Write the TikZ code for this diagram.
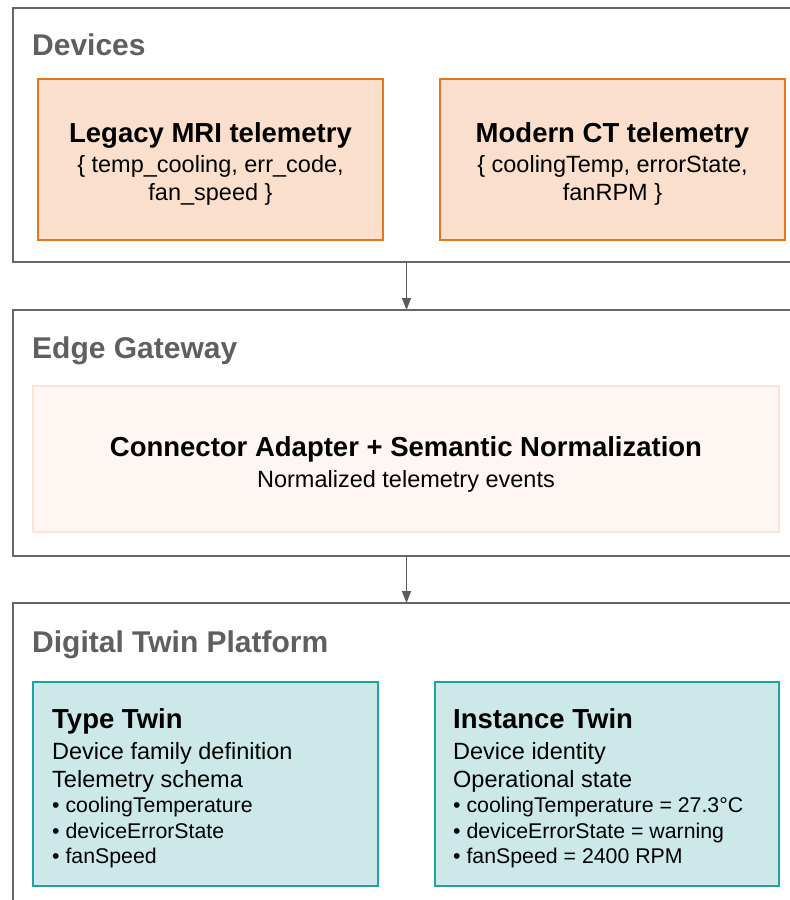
\documentclass[tikz,border=0pt]{standalone}
\usepackage{fontspec}
\setmainfont{Liberation Sans}
\usetikzlibrary{arrows.meta}
\definecolor{framegray}{HTML}{666666}
\definecolor{headgray}{HTML}{5F5F5F}
\definecolor{orangeline}{HTML}{E8741E}
\definecolor{orangefill}{HTML}{FAE0CC}
\definecolor{paleline}{HTML}{FCE3D6}
\definecolor{palefill}{HTML}{FDF6F2}
\definecolor{tealline}{HTML}{1FA39E}
\definecolor{tealfill}{HTML}{CCE8E8}
\definecolor{arrowgray}{HTML}{5A5A5A}
\tikzset{
  container/.style={draw=framegray, line width=1.6pt, fill=white, inner sep=0pt, outer sep=0pt},
  devbox/.style={draw=orangeline, line width=1.6pt, fill=orangefill, inner sep=0pt, outer sep=0pt},
  gwbox/.style={draw=paleline, line width=1.6pt, fill=palefill, inner sep=0pt, outer sep=0pt},
  twinbox/.style={draw=tealline, line width=1.6pt, fill=tealfill, inner sep=0pt, outer sep=0pt},
  heading/.style={inner sep=0pt, anchor=base west, text=headgray, font=\fontsize{30}{34}\selectfont\bfseries},
  boxtitle/.style={inner sep=0pt, font=\fontsize{27.5}{32}\selectfont\bfseries, text=black},
  boxsub/.style={inner sep=0pt, font=\fontsize{23.5}{28}\selectfont, text=black},
  bulletline/.style={inner sep=0pt, anchor=base west, font=\fontsize{21.3}{25}\selectfont, text=black},
  flow/.style={draw=arrowgray, line width=1.5pt, -{Triangle[length=12pt,width=9pt]}},
}
\begin{document}
\begin{tikzpicture}[x=1pt,y=-1pt]
\useasboundingbox (0,0) rectangle (790,900);
\clip (0,0) rectangle (790,900);
% containers
\node[container, minimum width=787pt, minimum height=254pt, anchor=north west] (dev) at (13,8) {};
\node[container, minimum width=787pt, minimum height=246pt, anchor=north west] (gw) at (13,310) {};
\node[container, minimum width=787pt, minimum height=320pt, anchor=north west] (dtp) at (13,603) {};
% headings
\node[heading] (hdev) at (32,55) {Devices};
\node[heading] (hgw) at (32,358) {Edge Gateway};
\node[heading] (hdtp) at (32,652) {Digital Twin Platform};
% device boxes
\node[devbox, minimum width=345pt, minimum height=161pt, anchor=north west] (mri) at (38,79) {};
\node[devbox, minimum width=345pt, minimum height=161pt, anchor=north west] (ct) at (440,79) {};
\node[boxtitle, anchor=base] (mrit) at (210.5,142) {Legacy MRI telemetry};
\node[boxsub, anchor=base] (mri1) at (210.5,172) {\{ temp\_cooling, err\_code,};
\node[boxsub, anchor=base] (mri2) at (210.5,200) {fan\_speed \}};
\node[boxtitle, anchor=base] (ctt) at (612.5,142) {Modern CT telemetry};
\node[boxsub, anchor=base] (ct1) at (612.5,172) {\{ coolingTemp, errorState,};
\node[boxsub, anchor=base] (ct2) at (612.5,200) {fanRPM \}};
% gateway box
\node[gwbox, minimum width=746pt, minimum height=146pt, anchor=north west] (adapter) at (33,386) {};
\node[boxtitle, anchor=base] (adt) at (406,456) {Connector Adapter + Semantic Normalization};
\node[boxsub, anchor=base] (ads) at (406,487) {Normalized telemetry events};
% twin boxes
\node[twinbox, minimum width=345pt, minimum height=204pt, anchor=north west] (tt) at (33,682) {};
\node[twinbox, minimum width=344pt, minimum height=204pt, anchor=north west] (it) at (435,682) {};
\node[boxtitle, anchor=base west] (ttt) at (52,728) {Type Twin};
\node[boxsub, anchor=base west] (tt1) at (52,759) {Device family definition};
\node[boxsub, anchor=base west] (tt2) at (52,787) {Telemetry schema};
\node[bulletline] (tt3) at (52,812) {• coolingTemperature};
\node[bulletline] (tt4) at (52,838) {• deviceErrorState};
\node[bulletline] (tt5) at (52,863) {• fanSpeed};
\node[boxtitle, anchor=base west] (itt) at (453,728) {Instance Twin};
\node[boxsub, anchor=base west] (it1) at (453,759) {Device identity};
\node[boxsub, anchor=base west] (it2) at (453,787) {Operational state};
\node[bulletline] (it3) at (453,812) {• coolingTemperature = 27.3°C};
\node[bulletline] (it4) at (453,838) {• deviceErrorState = warning};
\node[bulletline] (it5) at (453,863) {• fanSpeed = 2400 RPM};
% connectors
\draw[flow] (dev.south) -- (gw.north);
\draw[flow] (gw.south) -- (dtp.north);
\end{tikzpicture}
\end{document}
